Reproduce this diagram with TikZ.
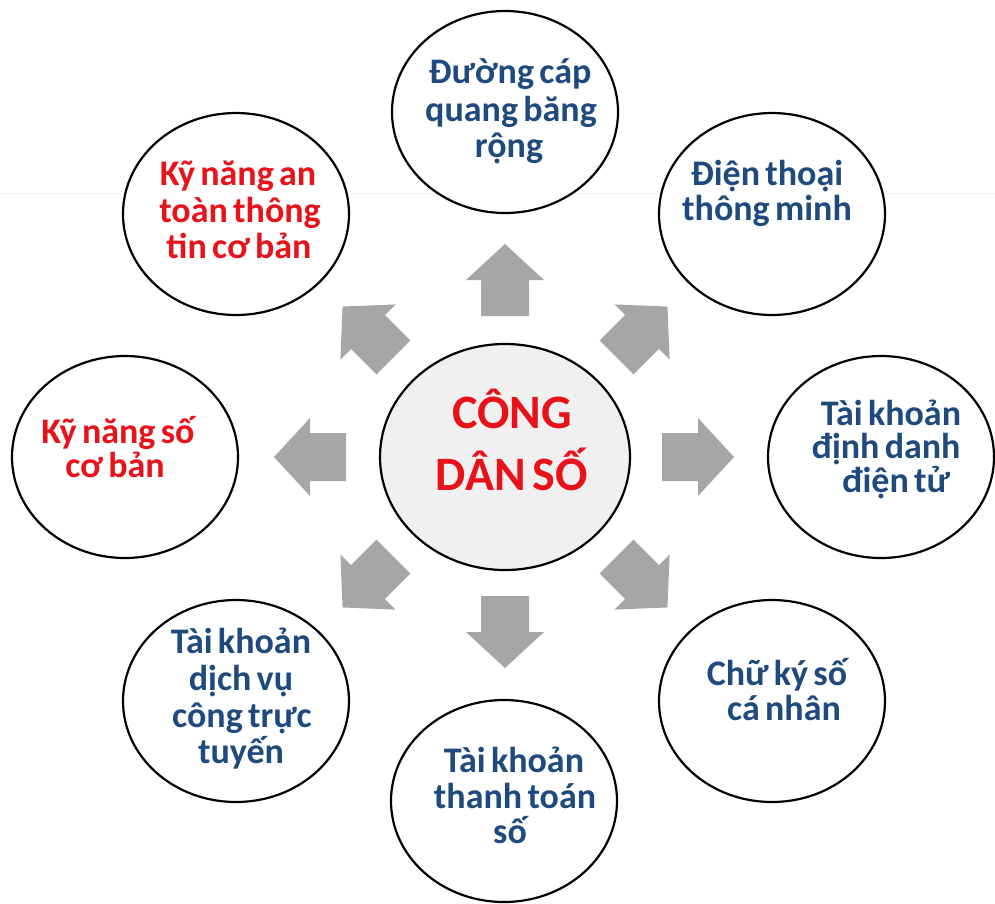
\documentclass[tikz,border=0pt]{standalone}
\usepackage{fontspec}
\setmainfont{Carlito}[WordSpace=0.65]
\usetikzlibrary{shapes.geometric}
\definecolor{txtred}{RGB}{232,18,26}
\definecolor{txtblue}{RGB}{31,74,125}
\definecolor{arrgray}{RGB}{166,166,166}
\definecolor{cfill}{RGB}{240,240,240}
\definecolor{faint}{RGB}{242,242,242}
\newcommand\blockarr[3]{%
  \fill[arrgray, shift={(#1,#2)}, rotate=#3]
    (-36,-24) -- (0,-24) -- (0,-39) -- (36,0) -- (0,39) -- (0,24) -- (-36,24) -- cycle;}
\begin{document}
\begin{tikzpicture}[x=1pt,y=-1pt,
  bubble/.style={draw=black, line width=2.2pt, fill=white, ellipse, inner sep=0pt,
    minimum width=226pt, minimum height=202pt},
  hub/.style={draw=black, line width=2.2pt, fill=cfill, ellipse, inner sep=0pt,
    minimum width=250pt, minimum height=226pt},
  lb/.style={anchor=base, inner sep=0pt, font=\fontsize{36}{40}\selectfont\bfseries, text=txtblue},
  lr/.style={lb, text=txtred},
  hubtxt/.style={anchor=base, inner sep=0pt, font=\fontsize{48}{56}\selectfont\bfseries, text=txtred}]
\useasboundingbox (0,0) rectangle (995,903);
\fill[white] (0,0) rectangle (995,903);
\draw[faint, line width=1pt] (0,193) -- (995,193);

% circles
\node[hub] (hub) at (505,457) {};
\node[bubble] (top) at (505,112) {};
\node[bubble] (nw) at (236,214) {};
\node[bubble] (ne) at (772,214) {};
\node[bubble] (left) at (125,457) {};
\node[bubble] (right) at (881,457) {};
\node[bubble] (sw) at (236,701) {};
\node[bubble] (se) at (772,701) {};
\node[bubble] (bot) at (504,801) {};

% arrows
\blockarr{505}{280}{90}
\blockarr{505}{632}{-90}
\blockarr{698}{457}{0}
\blockarr{310}{457}{180}
\blockarr{642}{332}{45}
\blockarr{368}{332}{135}
\blockarr{642}{582}{-45}
\blockarr{368}{582}{-135}

% center text
\node[hubtxt] (h1) at (512,428) {CÔNG};
\node[hubtxt] (h2) at (512,490) {DÂN SỐ};

% top
\node[lb] (t1) at (510,83) {Đường cáp};
\node[lb] (t2) at (511,121) {quang băng};
\node[lb] (t3) at (509,157) {rộng};
% nw
\node[lr] (nw1) at (238,185) {Kỹ năng an};
\node[lr] (nw2) at (240,222) {toàn thông};
\node[lr] (nw3) at (239,258) {tin cơ bản};
% ne
\node[lb] (ne1) at (767,185) {Điện thoại};
\node[lb] (ne2) at (767,220) {thông minh};
% left
\node[lr] (l1) at (118,443) {Kỹ năng số};
\node[lr] (l2) at (115,477) {cơ bản};
% right
\node[lb] (r1) at (891,425) {Tài khoản};
\node[lb] (r2) at (886,458) {định danh};
\node[lb] (r3) at (896,492) {điện tử};
% sw
\node[lb] (sw1) at (241,653) {Tài khoản};
\node[lb] (sw2) at (241,690) {dịch vụ};
\node[lb] (sw3) at (242,727) {công trực};
\node[lb] (sw4) at (241,763) {tuyến};
% bottom
\node[lb] (b1) at (514,772) {Tài khoản};
\node[lb] (b2) at (515,808) {thanh toán};
\node[lb] (b3) at (510,843) {số};
% se
\node[lb] (se1) at (777,685) {Chữ ký số};
\node[lb] (se2) at (784,720) {cá nhân};
\end{tikzpicture}
\end{document}
